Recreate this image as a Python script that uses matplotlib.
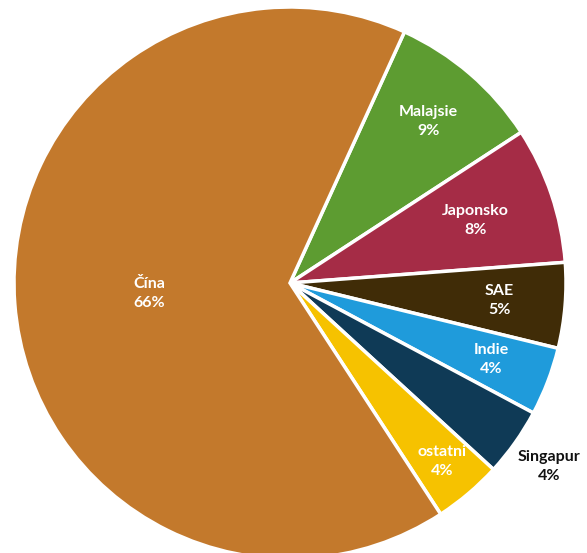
import numpy as np
import matplotlib.pyplot as plt

# data (clockwise from the top)
labels = ['Malajsie', 'Japonsko', 'SAE', 'Indie', 'Singapur', 'ostatni', 'Čína']
values = [9, 8, 5, 4, 4, 4, 66]

colors = ['#5d9c31', '#a52c46', '#402c07', '#1f9bdb', '#0f3a56', '#f6c200', '#c3792c']
text_colors = ['white', 'white', 'white', 'white', '#111111', 'white', 'white']
label_r = [0.77, 0.71, 0.76, 0.78, 1.15, 0.85, 0.51]

W, H = 587, 553
fig = plt.figure(figsize=(W / 100, H / 100), dpi=100)
ax = fig.add_axes([0, 0, 1, 1])

cx, cy, radius = 290, H - 283, 276
wedges, _ = ax.pie(values, colors=colors, startangle=65.5, counterclock=False,
                   center=(cx, cy), radius=radius, frame=True,
                   wedgeprops=dict(edgecolor='white', linewidth=2.5))
ax.set_xlim(0, W)
ax.set_ylim(0, H)
ax.axis('off')

for w, name, v, tc, rf in zip(wedges, labels, values, text_colors, label_r):
    theta = np.deg2rad((w.theta1 + w.theta2) / 2)
    x = cx + rf * radius * np.cos(theta)
    y = cy + rf * radius * np.sin(theta)
    ax.text(x, y, f'{name}\n{v}%', ha='center', va='center', color=tc,
            fontsize=11.5, fontweight='bold', family=['Lato', 'DejaVu Sans'],
            linespacing=1.45)

fig.savefig('out.png', dpi=100)
